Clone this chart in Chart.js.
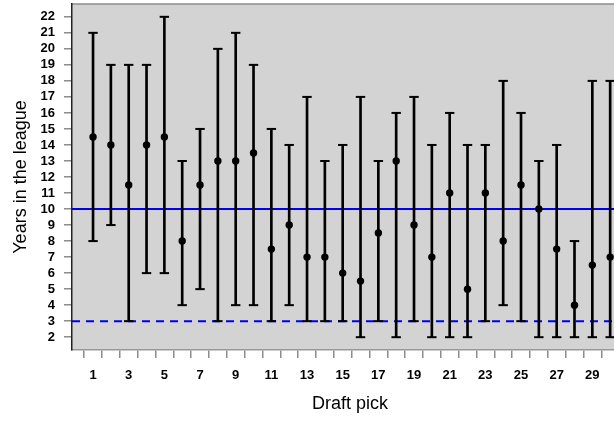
<!DOCTYPE html>
<html>
<head>
<meta charset="utf-8">
<script src="https://cdn.jsdelivr.net/npm/chart.js@4.4.1/dist/chart.umd.min.js"></script>
<style>
    html, body { margin: 0; padding: 0; background: #fff; overflow: hidden; }
    #wrap { width: 628px; height: 421px; }
</style>
</head>
<body>
<div id="wrap"><canvas id="myChart" width="628" height="421"></canvas></div>
<script>
let picks = [1, 2, 3, 4, 5, 6, 7, 8, 9, 10, 11, 12, 13, 14, 15,
    16, 17, 18, 19, 20, 21, 22, 23, 24, 25, 26, 27, 28, 29, 30];
let midYears = [14.5, 14, 11.5, 14, 14.5, 8, 11.5, 13, 13, 13.5, 7.5, 9, 7, 7, 6,
    5.5, 8.5, 13, 9, 7, 11, 5, 11, 8, 11.5, 10, 7.5, 4, 6.5, 7];
let lowYears = [8, 9, 3, 6, 6, 4, 5, 3, 4, 4, 3, 4, 3, 3, 3,
    2, 3, 2, 3, 2, 2, 2, 3, 4, 3, 2, 2, 2, 2, 2];
let highYears = [21, 19, 19, 19, 22, 13, 15, 20, 21, 19, 15, 14, 17, 13, 14,
    17, 13, 16, 17, 14, 16, 14, 14, 18, 16, 13, 14, 8, 18, 18];
let yTicks = [2, 3, 4, 5, 6, 7, 8, 9, 10, 11, 12, 13, 14, 15, 16, 17, 18, 19, 20, 21, 22];
let xTicks = picks;
let refSolid = 10;
let refDashed = 3;

let xMin = -0.18;
let xMax = 31.0;
let tickFont = { family: "'Liberation Sans', Arial, sans-serif", size: 13, weight: 'bold' };
let titleFont = { family: "'Liberation Sans', Arial, sans-serif", size: 18 };

// grey plot panel behind everything
const panelPlugin = {
    id: 'panel',
    beforeDraw(chart) {
        const { ctx, chartArea: a } = chart;
        ctx.save();
        ctx.fillStyle = '#d3d3d3';
        ctx.fillRect(a.left, a.top, a.right - a.left, a.bottom - a.top);
        ctx.strokeStyle = '#8c8c8c';
        ctx.lineWidth = 1.5;
        ctx.beginPath();
        ctx.moveTo(a.left, a.top);
        ctx.lineTo(a.right, a.top);
        ctx.stroke();
        ctx.restore();
    }
};

function refLine(value, dash) {
    return {
        type: 'line',
        data: [{ x: xMin, y: value }, { x: xMax, y: value }],
        borderColor: '#0000ee',
        borderWidth: 2,
        borderDash: dash,
        pointRadius: 0,
        order: 4
    };
}

let ctx = document.getElementById('myChart').getContext('2d');
let chartGraph = new Chart(ctx, {
    type: 'bar',
    data: {
        datasets: [
            refLine(refSolid, []),
            refLine(refDashed, [8, 6]),
            {
                type: 'bar',
                data: picks.map((p, i) => ({ x: p, y: [lowYears[i], highYears[i]] })),
                backgroundColor: '#000',
                borderWidth: 0,
                barThickness: 2,
                order: 3
            },
            {
                type: 'scatter',
                data: picks.map((p, i) => ({ x: p, y: lowYears[i] })),
                pointStyle: 'line',
                pointRadius: 4.7,
                borderColor: '#000',
                borderWidth: 2,
                order: 2
            },
            {
                type: 'scatter',
                data: picks.map((p, i) => ({ x: p, y: highYears[i] })),
                pointStyle: 'line',
                pointRadius: 4.7,
                borderColor: '#000',
                borderWidth: 2,
                order: 2
            },
            {
                type: 'scatter',
                data: picks.map((p, i) => ({ x: p, y: midYears[i] })),
                pointStyle: 'circle',
                pointRadius: 3.7,
                backgroundColor: '#000',
                borderWidth: 0,
                order: 1
            }
        ]
    },
    options: {
        responsive: false,
        animation: false,
        devicePixelRatio: 1,
        layout: { autoPadding: false, padding: { top: 4, right: 0, left: 0, bottom: 0 } },
        plugins: {
            legend: { display: false },
            tooltip: { enabled: false }
        },
        scales: {
            x: {
                type: 'linear',
                min: xMin,
                max: xMax,
                offset: false,
                afterBuildTicks: axis => { axis.ticks = xTicks.map(v => ({ value: v })); },
                afterFit: axis => { axis.height = 71; axis.paddingLeft = 0; axis.paddingRight = 0; },
                grid: { drawOnChartArea: false, tickLength: 8, color: '#8c8c8c', lineWidth: 1.5 },
                border: { color: '#999', width: 1.5 },
                ticks: {
                    autoSkip: false,
                    maxRotation: 0,
                    padding: 10,
                    color: '#000',
                    font: tickFont,
                    callback: v => (v % 2 === 1 ? String(v) : '')
                },
                title: {
                    display: true,
                    text: 'Draft pick',
                    color: '#000',
                    font: titleFont,
                    padding: { top: 0, bottom: 6 }
                }
            },
            y: {
                min: 1.2,
                max: 22.8,
                afterBuildTicks: axis => { axis.ticks = yTicks.map(v => ({ value: v })); },
                afterFit: axis => { axis.width = 72; axis.paddingTop = 0; axis.paddingBottom = 0; },
                grid: { drawOnChartArea: false, tickLength: 8, color: '#8c8c8c', lineWidth: 1.5 },
                border: { color: '#222', width: 1.5 },
                ticks: {
                    autoSkip: false,
                    padding: 9,
                    color: '#000',
                    font: tickFont
                },
                title: {
                    display: true,
                    text: 'Years in the league',
                    color: '#000',
                    font: titleFont,
                    padding: { top: 10, bottom: 0 }
                }
            }
        }
    },
    plugins: [panelPlugin]
});
</script>
</body>
</html>
